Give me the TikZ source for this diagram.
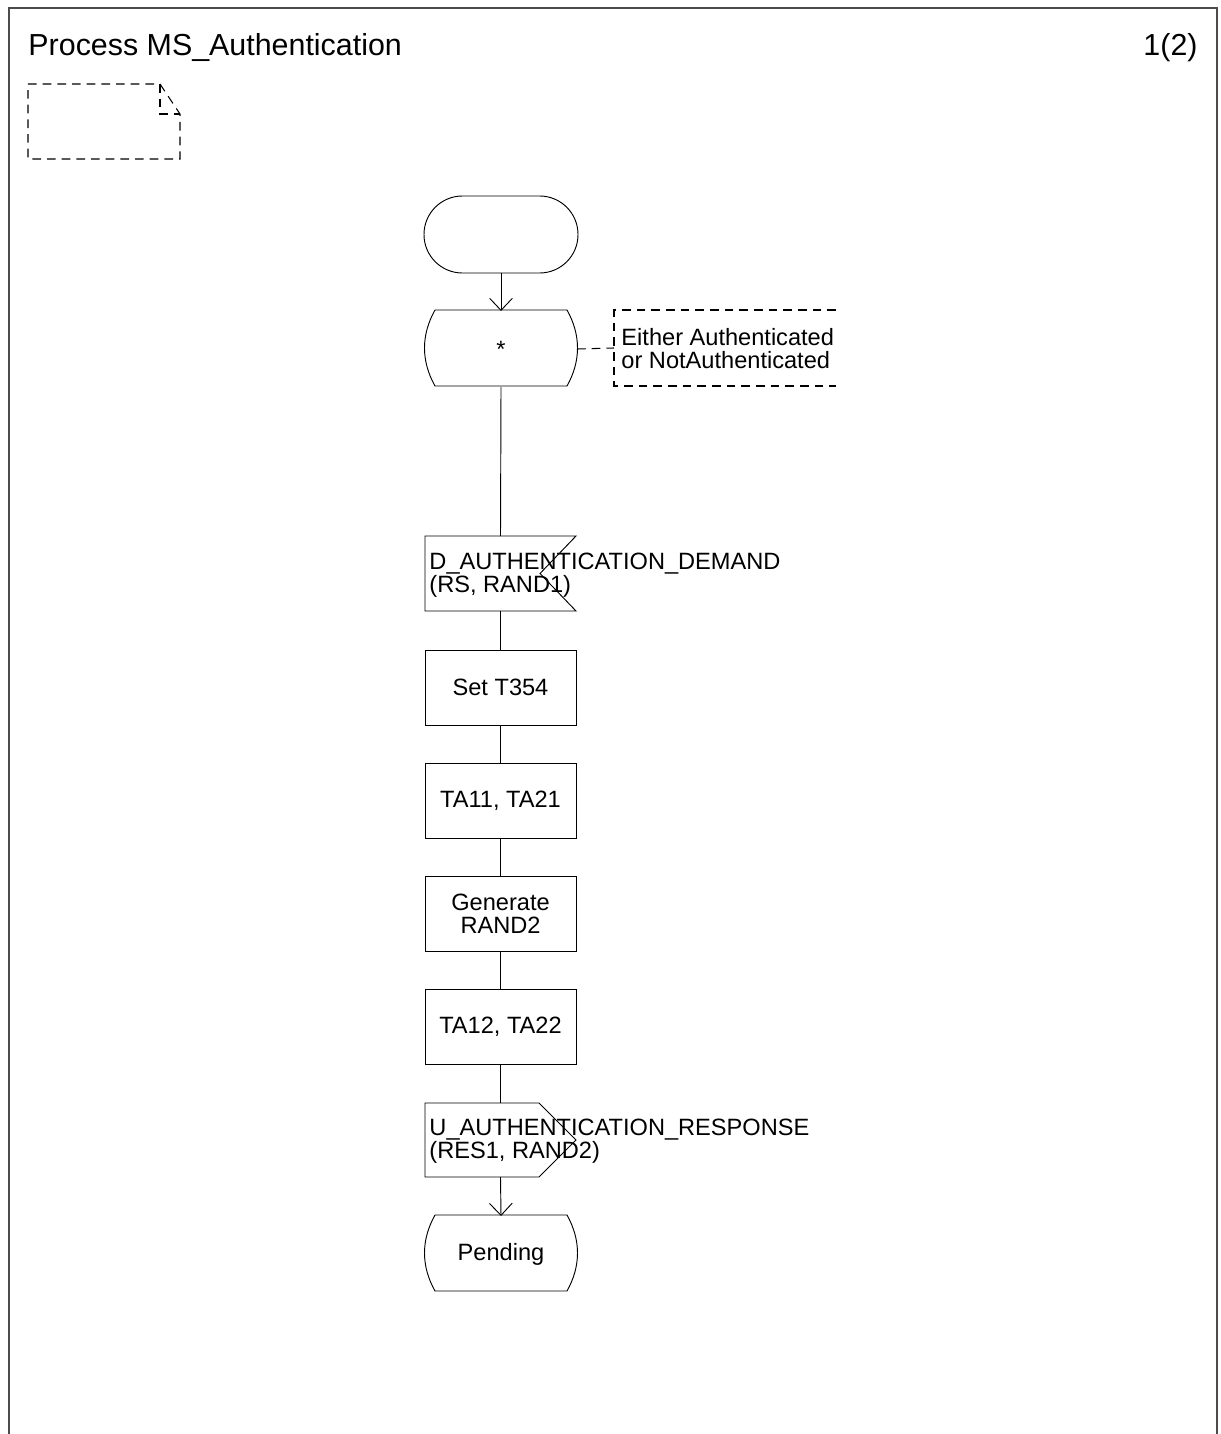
\documentclass[tikz,border=0pt]{standalone}
\usepackage{fontspec}
\setmainfont{Liberation Sans}
\usetikzlibrary{arrows.meta}
\begin{document}
\begin{tikzpicture}[x=0.75pt,y=-0.75pt,line width=0.7pt,
  txt/.style={font=\fontsize{17.7pt}{17.3pt}\selectfont,inner sep=0pt},
  symbox/.style={minimum width=113.25pt,minimum height=56.25pt,inner sep=0pt,outer sep=0pt},
  taskbox/.style={symbox,draw,txt,align=center},
  flow/.style={-{Straight Barb[length=9pt,width=17pt]}},
  note/.style={dash pattern=on 6.5pt off 4.5pt,line width=0.8pt}]
\useasboundingbox (0,0) rectangle (1220,1434);
% frame
\draw[black!70,line width=0.8pt] (9,1434) -- (9,8) -- (1217,8) -- (1217,1434);
\node[anchor=west,inner sep=0pt,font=\fontsize{22.8pt}{26pt}\selectfont] (title) at (28,47.5) {Process MS\_Authentication};
\node[anchor=east,inner sep=0pt,font=\fontsize{22.8pt}{26pt}\selectfont] (page) at (1198,47.5) {1(2)};
% dashed text symbol top left
\draw[note] (28,84) -- (160,84) -- (180,114) -- (180,159) -- (28,159) -- cycle;
\draw[note] (160,84) -- (160,114) -- (180,114);
% start
\node[draw,rounded corners=28.8pt,minimum width=115.5pt,minimum height=57.75pt,inner sep=0pt,outer sep=0pt] (start) at (501,234.5) {};
% state *
\node[symbox,minimum width=114pt,minimum height=57pt,txt] (st1) at (501,349) {*};
\draw (435,310) -- (567,310) .. controls (581,335) and (581,361) .. (567,386) -- (435,386) .. controls (421,361) and (421,335) .. (435,310);
% comment
\node[minimum width=166.5pt,minimum height=57pt,inner sep=0pt,outer sep=0pt] (cmt) at (725,348) {};
\draw[note] (cmt.north east) -- (cmt.north west) -- (cmt.south west) -- (cmt.south east);
\draw[note] (st1.east) -- (cmt.west);
\node[txt,anchor=west,align=left] (cmttxt) at (621,349) {Either Authenticated\\or NotAuthenticated};
% input
\node[symbox] (in1) at (500.5,573.5) {};
\draw (in1.north west) -- (in1.north east) -- ([xshift=-27pt]in1.east) -- (in1.south east) -- (in1.south west) -- cycle;
\node[txt,anchor=west,align=left] (in1txt) at (429,575.5) {D\_AUTHENTICATION\_DEMAND\\(RS, RAND1)};
% tasks
\node[taskbox] (t1) at (500.5,687.5) {Set T354};
\node[taskbox] (t2) at (500.5,800.5) {TA11, TA21};
\node[taskbox] (t3) at (500.5,913.5) {Generate\\RAND2};
\node[taskbox] (t4) at (500.5,1026.5) {TA12, TA22};
% output
\node[symbox,minimum height=55.5pt] (out1) at (500.5,1140) {};
\draw (out1.north west) -- ([xshift=-27.75pt]out1.north east) -- (out1.east) -- ([xshift=-27.75pt]out1.south east) -- (out1.south west) -- cycle;
\node[txt,anchor=west,align=left] (out1txt) at (429,1141.5) {U\_AUTHENTICATION\_RESPONSE\\(RES1, RAND2)};
% pending state
\node[symbox,minimum width=114pt,minimum height=57pt,txt] (pn) at (501,1254) {Pending};
\draw (435,1215) -- (567,1215) .. controls (581,1240) and (581,1266) .. (567,1291) -- (435,1291) .. controls (421,1266) and (421,1240) .. (435,1215);
% connectors
\draw[flow] (start.south) -- (st1.north);
\draw (st1.south) -- (in1.north);
\draw (in1.south) -- (t1.north);
\draw (t1.south) -- (t2.north);
\draw (t2.south) -- (t3.north);
\draw (t3.south) -- (t4.north);
\draw (t4.south) -- (out1.north);
\draw[flow] (out1.south) -- (pn.north);
\end{tikzpicture}
\end{document}
